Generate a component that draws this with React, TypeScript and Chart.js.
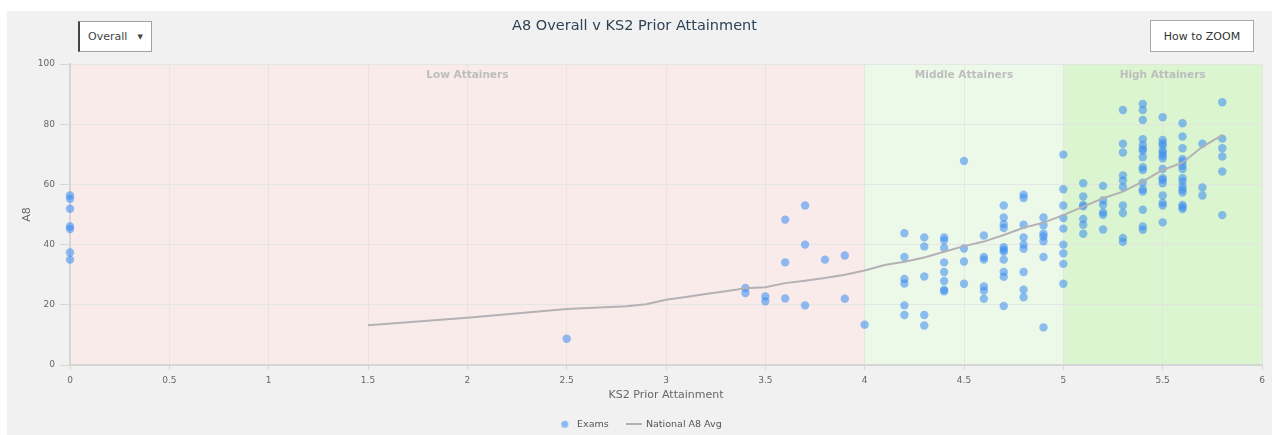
import React, { useEffect, useRef } from "react";
import { Chart, registerables } from "chart.js";

Chart.register(...registerables);

const FONT = "'DejaVu Sans', Verdana, sans-serif";

const chartTitle = "A8 Overall v KS2 Prior Attainment";
const xAxisTitle = "KS2 Prior Attainment";
const yAxisTitle = "A8";
const examsLabel = "Exams";
const nationalLabel = "National A8 Avg";
const dropdownLabel = "Overall";
const zoomButtonLabel = "How to ZOOM";

// Attainment bands (KS2 ranges)
const bandStarts = [0, 4, 5];
const bandEnds = [4, 5, 6];
const bandLabels = ["Low Attainers", "Middle Attainers", "High Attainers"];
const bandColors = ["rgb(249,235,234)", "rgb(237,249,232)", "rgb(218,245,207)"];

// Exams: KS2 prior attainment columns and A8 values in each column
const examKs2 = [0, 2.5, 3.4, 3.5, 3.6, 3.7, 3.8, 3.9, 4.0, 4.2, 4.3, 4.4, 4.5, 4.6, 4.7, 4.8, 4.9, 5.0, 5.1, 5.2, 5.3, 5.4, 5.5, 5.6, 5.7, 5.8];
const examA8 = [
  [56.3, 55.2, 51.9, 46.0, 45.2, 37.4, 35.0],
  [8.7],
  [25.6, 23.9],
  [22.8, 21.2],
  [48.3, 34.1, 22.1],
  [53.0, 40.0, 19.8],
  [35.0],
  [36.4, 22.0],
  [13.4],
  [43.8, 35.9, 28.6, 27.1, 19.8, 16.6],
  [42.4, 39.4, 29.4, 16.6, 13.1],
  [42.4, 41.4, 38.9, 34.1, 30.9, 27.9, 25.0, 24.5],
  [67.8, 38.7, 34.4, 27.0],
  [43.0, 35.9, 35.0, 26.1, 24.7, 22.0],
  [53.0, 49.0, 46.8, 45.5, 39.1, 38.3, 37.6, 35.0, 30.9, 29.3, 19.6],
  [56.6, 55.5, 46.6, 42.4, 40.0, 38.6, 30.9, 25.0, 22.5],
  [49.0, 46.4, 43.6, 42.7, 41.1, 35.9, 12.5],
  [69.9, 58.4, 53.0, 48.8, 45.3, 40.0, 37.1, 33.6, 27.0],
  [60.4, 56.0, 53.2, 52.7, 48.5, 46.6, 43.6],
  [59.5, 54.7, 53.2, 50.7, 49.9, 45.0],
  [84.7, 73.5, 70.6, 63.0, 61.3, 59.1, 53.0, 50.5, 42.2, 40.9],
  [86.7, 84.7, 81.4, 75.0, 73.1, 71.8, 71.2, 69.0, 65.7, 64.8, 60.6, 58.4, 57.6, 51.6, 46.0, 44.9],
  [82.3, 74.8, 73.7, 72.9, 71.2, 70.4, 69.5, 68.7, 65.1, 62.1, 61.5, 60.4, 56.3, 53.8, 53.0, 47.4],
  [80.3, 75.9, 72.0, 68.4, 67.6, 66.2, 65.1, 62.1, 61.0, 59.3, 58.2, 57.3, 53.2, 52.5, 51.8],
  [73.5, 59.0, 56.3],
  [87.3, 75.2, 72.0, 69.3, 64.3, 49.8],
];

// National A8 average line
const nationalKs2 = [1.5, 2.0, 2.5, 2.8, 2.9, 3.0, 3.1, 3.2, 3.3, 3.4, 3.5, 3.6, 3.7, 3.8, 3.9, 4.0, 4.1, 4.2, 4.3, 4.4, 4.5, 4.6, 4.7, 4.8, 4.9, 5.0, 5.1, 5.2, 5.3, 5.4, 5.5, 5.6, 5.7, 5.8];
const nationalA8 = [13.2, 15.7, 18.6, 19.5, 20.2, 21.7, 22.6, 23.6, 24.5, 25.5, 25.8, 27.2, 28.0, 28.9, 30.0, 31.4, 33.2, 34.3, 35.7, 37.6, 39.5, 41.0, 43.2, 45.6, 47.3, 49.8, 52.6, 55.4, 57.6, 60.9, 64.8, 67.2, 72.5, 76.4];

// Axis ticks
const xMin = 0, xMax = 6, xStep = 0.5;
const yMin = 0, yMax = 100, yStep = 20;

const EXAM_COLOR = "rgba(60,140,240,0.56)";
const LINE_COLOR = "#b4b1b4";

const bandsPlugin = {
  id: "attainmentBands",
  afterLayout(chart: any) {
    // centre the legend row like the reference (trailing item padding offsets it)
    if (chart.legend) {
      chart.legend.left += 5;
      chart.legend.right += 5;
    }
  },
  beforeDraw(chart: any) {
    const { ctx, chartArea, scales } = chart;
    const x = scales.x;
    ctx.save();
    for (let i = 0; i < bandStarts.length; i++) {
      const x0 = x.getPixelForValue(bandStarts[i]);
      const x1 = x.getPixelForValue(bandEnds[i]);
      ctx.fillStyle = bandColors[i];
      ctx.fillRect(x0, chartArea.top, x1 - x0, chartArea.bottom - chartArea.top);
    }
    ctx.restore();
  },
  beforeDatasetsDraw(chart: any) {
    const { ctx, chartArea, scales } = chart;
    const x = scales.x;
    ctx.save();
    ctx.font = "bold 10.5px " + FONT;
    ctx.fillStyle = "#bdbdbd";
    ctx.textAlign = "center";
    ctx.textBaseline = "middle";
    for (let i = 0; i < bandStarts.length; i++) {
      const x0 = x.getPixelForValue(bandStarts[i]);
      const x1 = x.getPixelForValue(bandEnds[i]);
      ctx.fillText(bandLabels[i], (x0 + x1) / 2, chartArea.top + 11);
    }
    ctx.restore();
  },
};

export default function App() {
  const canvasRef = useRef<HTMLCanvasElement | null>(null);

  useEffect(() => {
    const canvas = canvasRef.current;
    if (!canvas) return;

    const dot = document.createElement("canvas");
    dot.width = 9;
    dot.height = 9;
    const dctx = dot.getContext("2d")!;
    dctx.fillStyle = EXAM_COLOR;
    dctx.beginPath();
    dctx.arc(4.5, 4.5, 3.6, 0, Math.PI * 2);
    dctx.fill();

    const dash = document.createElement("canvas");
    dash.width = 16;
    dash.height = 2;
    const lctx = dash.getContext("2d")!;
    lctx.fillStyle = LINE_COLOR;
    lctx.fillRect(0, 0, 16, 2);

    const markers = [dot, dash];

    const examPoints: { x: number; y: number }[] = [];
    examKs2.forEach((k, i) => examA8[i].forEach((v) => examPoints.push({ x: k, y: v })));
    const linePoints = nationalKs2.map((k, i) => ({ x: k, y: nationalA8[i] }));

    const chart = new Chart(canvas, {
      type: "scatter",
      data: {
        datasets: [
          {
            type: "scatter",
            label: examsLabel,
            data: examPoints,
            backgroundColor: EXAM_COLOR,
            borderWidth: 0,
            pointRadius: 4.2,
            pointHoverRadius: 4.2,
            clip: false,
            order: 1,
          } as any,
          {
            type: "line",
            label: nationalLabel,
            data: linePoints,
            borderColor: LINE_COLOR,
            backgroundColor: LINE_COLOR,
            borderWidth: 2,
            pointRadius: 0,
            pointHoverRadius: 0,
            tension: 0,
            fill: false,
            order: 0,
          } as any,
        ],
      },
      options: {
        responsive: false,
        animation: false,
        events: [],
        layout: { padding: { left: 0, right: 10, top: 0, bottom: 0 } },
        plugins: {
          title: {
            display: true,
            text: chartTitle,
            color: "#2f4356",
            font: { family: FONT, size: 14.5, weight: "normal" },
            padding: { top: 7, bottom: 28.6 },
          },
          legend: {
            display: true,
            position: "bottom",
            labels: {
              usePointStyle: true,
              pointStyleWidth: 15,
              padding: 17.5,
              color: "#555",
              font: { family: FONT, size: 9.5 },
              sort: (a: any, b: any) => a.datasetIndex - b.datasetIndex,
              generateLabels: (c: any) => {
                const items = (Chart.defaults.plugins.legend.labels as any).generateLabels(c);
                items.forEach((it: any) => {
                  it.pointStyle = markers[it.datasetIndex];
                });
                return items;
              },
            },
          },
          tooltip: { enabled: false },
        },
        scales: {
          x: {
            type: "linear",
            min: xMin,
            max: xMax,
            afterFit: (s: any) => {
              s.height = 37;
            },
            ticks: {
              stepSize: xStep,
              color: "#666",
              padding: 5,
              font: { family: FONT, size: 9 },
              maxRotation: 0,
              callback: (v: any) => String(Number(v)),
            },
            grid: {
              color: "rgba(226,228,226,0.85)",
              tickColor: "#d6d6d6",
              tickLength: 5,
            },
            border: { color: "#d6d6d6", width: 2 },
            title: {
              display: true,
              text: xAxisTitle,
              color: "#666",
              font: { family: FONT, size: 11 },
              padding: { top: 0, bottom: 0 },
            },
          },
          y: {
            type: "linear",
            min: yMin,
            max: yMax,
            afterFit: (s: any) => {
              s.width = 63;
            },
            ticks: {
              stepSize: yStep,
              color: "#666",
              padding: 5,
              font: { family: FONT, size: 9 },
            },
            grid: {
              color: "rgba(226,228,226,0.85)",
              tickColor: "#d6d6d6",
              tickLength: 10,
            },
            border: { color: "#d6d6d6", width: 2 },
            title: {
              display: true,
              text: yAxisTitle,
              color: "#666",
              font: { family: FONT, size: 11 },
              padding: { top: 13.4, bottom: 0 },
            },
          },
        },
      },
      plugins: [bandsPlugin],
    } as any);

    return () => chart.destroy();
  }, []);

  return (
    <div
      style={{
        position: "absolute",
        left: 7,
        top: 11,
        width: 1265,
        height: 424,
        overflow: "hidden",
        background: "#f1f1f1",
        fontFamily: FONT,
      }}
    >
      <canvas ref={canvasRef} width={1265} height={428} style={{ display: "block" }} />
      <div
        style={{
          position: "absolute",
          left: 71,
          top: 10,
          width: 74,
          height: 31,
          boxSizing: "border-box",
          background: "#fff",
          border: "1px solid #a0a0a0",
          borderLeft: "2px solid #444",
          fontSize: 11,
          color: "#444",
          display: "flex",
          alignItems: "center",
          paddingLeft: 8,
        }}
      >
        <span>{dropdownLabel}</span>
        <span style={{ position: "absolute", right: 8, fontSize: 7, color: "#444" }}>▼</span>
      </div>
      <div
        style={{
          position: "absolute",
          left: 1143,
          top: 9,
          width: 104,
          height: 32,
          boxSizing: "border-box",
          background: "#fff",
          border: "1px solid #a8a8a8",
          fontSize: 11,
          color: "#333",
          display: "flex",
          alignItems: "center",
          justifyContent: "center",
        }}
      >
        {zoomButtonLabel}
      </div>
    </div>
  );
}
